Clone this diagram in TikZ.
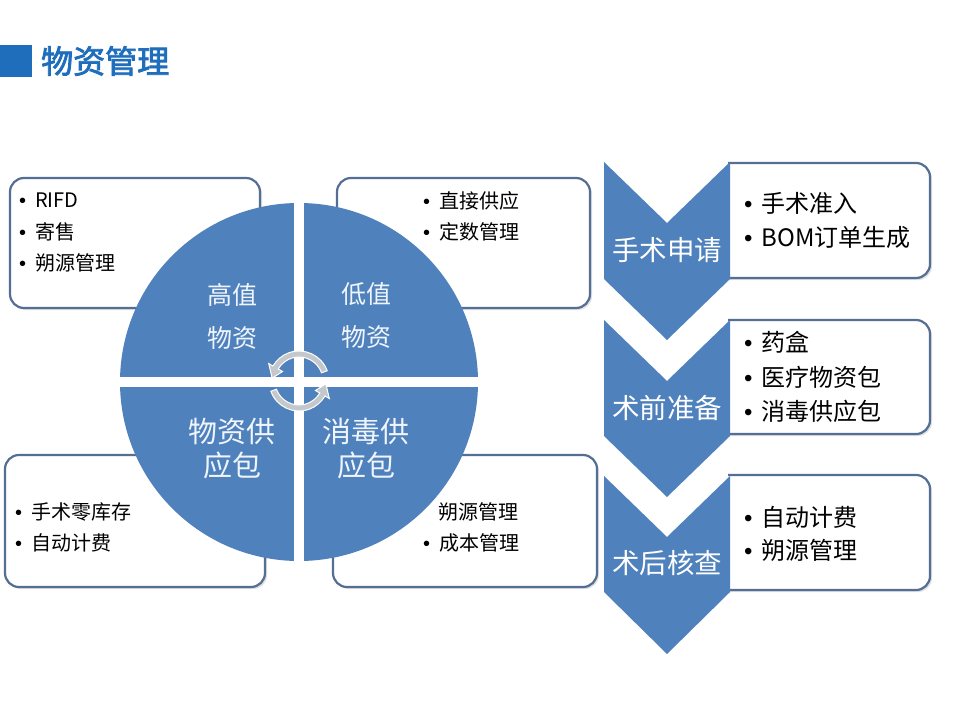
\documentclass[tikz,border=0pt]{standalone}
\usepackage{fontspec}
\setmainfont{Noto Sans CJK SC}
\newfontfamily\titlefont[FakeBold=2.5]{Noto Sans CJK SC}
\newfontfamily\bulfont{Liberation Sans}
\newcommand{\bul}{{\bulfont •}}
\usetikzlibrary{positioning}
\definecolor{qblue}{RGB}{79,129,189}
\definecolor{boxline}{RGB}{84,110,148}
\definecolor{titleblue}{RGB}{31,110,188}
\definecolor{qtext}{RGB}{240,245,252}
\definecolor{arrowgray}{RGB}{196,199,204}
\tikzset{
  infobox/.style={draw=boxline, line width=2.2pt, fill=white, rounded corners=14pt},
  shadowbox/.style={fill=black!12, rounded corners=14pt},
  item/.style={anchor=west, inner sep=0pt, font=\fontsize{20}{24}\selectfont, text=black},
  ritem/.style={anchor=west, inner sep=0pt, font=\fontsize{24}{27}\selectfont, text=black},
  qlabel/.style={align=center, inner sep=0pt, text=qtext, font=\fontsize{25}{43}\selectfont},
  qlabelbig/.style={align=center, inner sep=0pt, text=qtext, font=\fontsize{29}{34}\selectfont},
  chev/.style={fill=qblue},
  chevtext/.style={inner sep=0pt, text=white, font=\fontsize{27.5}{30}\selectfont},
  cyclearrow/.style={fill=arrowgray, draw=white, line width=1pt}
}
\begin{document}
\begin{tikzpicture}[x=1pt,y=-1pt]
\useasboundingbox (0,0) rectangle (960,720);
\fill[white] (0,0) rectangle (960,720);

% title
\fill[titleblue] (0,45) rectangle (32,77);
\node[anchor=west, inner sep=0pt, text=titleblue, font=\titlefont\fontsize{32}{34}\selectfont] (title) at (41,61) {物资管理};

% left boxes
\fill[shadowbox] (12,180) rectangle (262,310);
\draw[infobox] (10,178) rectangle (260,308);
\fill[shadowbox] (339,180) rectangle (592,310);
\draw[infobox] (337,178) rectangle (590,308);
\fill[shadowbox] (7,457) rectangle (267,589);
\draw[infobox] (5,455) rectangle (265,587);
\fill[shadowbox] (335,457) rectangle (599,589);
\draw[infobox] (333,455) rectangle (597,587);

% box texts
\node[item] (tl1) at (19,200) {\bul\hspace{9pt}RIFD};
\node[item] (tl2) at (19,232) {\bul\hspace{9pt}寄售};
\node[item] (tl3) at (19,263) {\bul\hspace{9pt}朔源管理};
\node[item] (tr1) at (423,201) {\bul\hspace{9pt}直接供应};
\node[item] (tr2) at (423,232) {\bul\hspace{9pt}定数管理};
\node[item] (bl1) at (15,512) {\bul\hspace{9pt}手术零库存};
\node[item] (bl2) at (15,543) {\bul\hspace{9pt}自动计费};
\node[item] (br1) at (438,512) {朔源管理};
\node[item] (br2) at (423,543) {\bul\hspace{9pt}成本管理};

% circle
\fill[qblue] (299,382) circle (179);
\begin{scope}
\clip (299,382) circle (180);
\fill[white] (294,190) rectangle (304,575);
\fill[white] (110,377) rectangle (490,387);
\end{scope}
\node[qlabel] (q1) at (232,316) {高值\\物资};
\node[qlabel] (q2) at (366,316) {低值\\物资};
\node[qlabelbig] (q3) at (232,449) {物资供\\应包};
\node[qlabelbig] (q4) at (366,449) {消毒供\\应包};

% cycle arrows
\begin{scope}[shift={(299,381)}]
\path[cyclearrow] (160:30) arc[start angle=160, end angle=30, radius=30]
  -- (30:35) -- (6:27) -- (30:19) -- (30:24)
  arc[start angle=30, end angle=160, radius=24] -- cycle;
\path[cyclearrow] (-20:30) arc[start angle=-20, end angle=-150, radius=30]
  -- (-150:35) -- (-174:27) -- (-150:19) -- (-150:24)
  arc[start angle=-150, end angle=-20, radius=24] -- cycle;
\end{scope}

% right boxes (rounded on the right only)
\fill[black!12] (729,165) [rounded corners=14pt] -- (932,165) -- (932,280) [sharp corners] -- (729,280) -- cycle;
\draw[draw=boxline, line width=2.2pt, fill=white] (728,163) [rounded corners=14pt] -- (930,163) -- (930,278) [sharp corners] -- (728,278);
\fill[black!12] (729,322) [rounded corners=14pt] -- (932,322) -- (932,436) [sharp corners] -- (729,436) -- cycle;
\draw[draw=boxline, line width=2.2pt, fill=white] (728,320) [rounded corners=14pt] -- (930,320) -- (930,434) [sharp corners] -- (728,434);
\fill[black!12] (729,477) [rounded corners=14pt] -- (932,477) -- (932,592) [sharp corners] -- (729,592) -- cycle;
\draw[draw=boxline, line width=2.2pt, fill=white] (728,475) [rounded corners=14pt] -- (930,475) -- (930,590) [sharp corners] -- (728,590);

% chevrons
\fill[chev] (604,162) -- (667,223) -- (730,162) -- (730,279) -- (667,340) -- (604,279) -- cycle;
\fill[chev] (604,320) -- (667,381) -- (730,320) -- (730,436) -- (667,497) -- (604,436) -- cycle;
\fill[chev] (604,476) -- (667,537) -- (730,476) -- (730,592) -- (667,654) -- (604,592) -- cycle;
\node[chevtext] (c1) at (667,250) {手术申请};
\node[chevtext] (c2) at (667,408) {术前准备};
\node[chevtext] (c3) at (667,563) {术后核查};

% right texts
\node[ritem] (r11) at (744,203) {\bul\hspace{9pt}手术准入};
\node[ritem] (r12) at (744,237) {\bul\hspace{9pt}BOM订单生成};
\node[ritem] (r21) at (744,342) {\bul\hspace{9pt}药盒};
\node[ritem] (r22) at (744,377) {\bul\hspace{9pt}医疗物资包};
\node[ritem] (r23) at (744,411) {\bul\hspace{9pt}消毒供应包};
\node[ritem] (r31) at (744,517) {\bul\hspace{9pt}自动计费};
\node[ritem] (r32) at (744,550) {\bul\hspace{9pt}朔源管理};
\end{tikzpicture}
\end{document}
